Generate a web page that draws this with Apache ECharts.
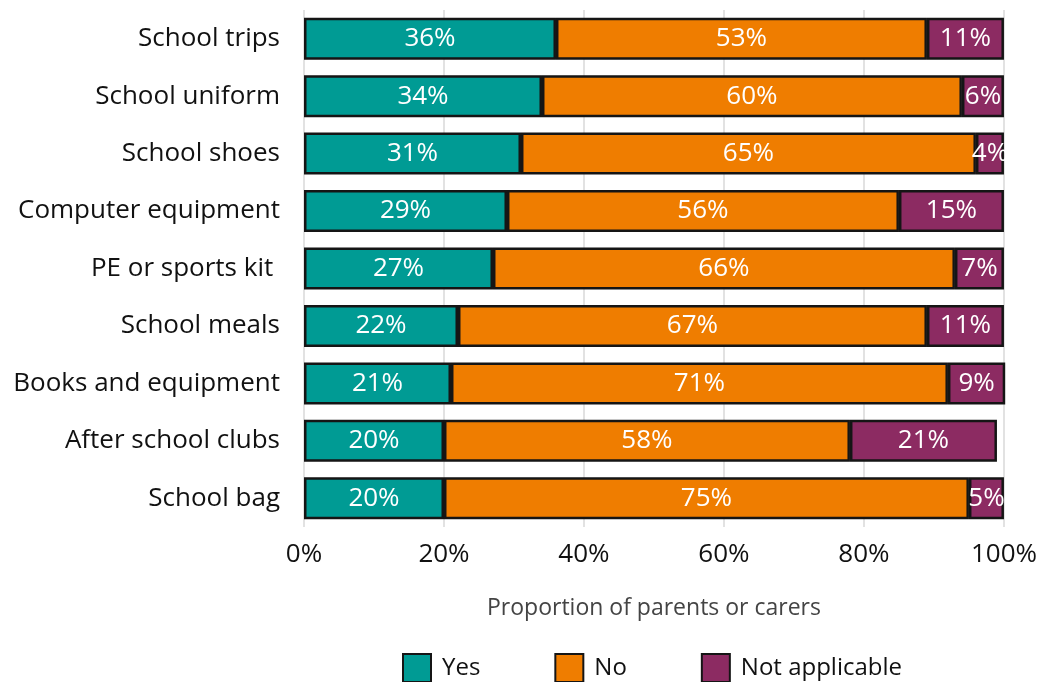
<!DOCTYPE html>
<html>
<head>
<meta charset="utf-8">
<script src="https://cdn.jsdelivr.net/npm/echarts@6/dist/echarts.min.js"></script>
<style>
  html, body { margin: 0; padding: 0; background: #ffffff; }
  #chart { width: 1040px; height: 682px; }
</style>
</head>
<body>
<div id="chart"></div>
<script>
// Items that parents or carers were asked about (top to bottom)
const categories = [
  'School trips', 'School uniform', 'School shoes', 'Computer equipment',
  'PE or sports kit ', 'School meals', 'Books and equipment',
  'After school clubs', 'School bag'
];
// Percentage of respondents per answer
const yesValues = [36, 34, 31, 29, 27, 22, 21, 20, 20];
const noValues = [53, 60, 65, 56, 66, 67, 71, 58, 75];
const naValues = [11, 6, 4, 15, 7, 11, 9, 21, 5];
const xTicks = [0, 20, 40, 60, 80, 100];

const FONT = '"Open Sans", Lato, sans-serif';
const colours = { yes: '#009b94', no: '#ef7d00', na: '#8c2b62' };

function barSeries(name, values, colour) {
  return {
    name: name,
    type: 'bar',
    stack: 'total',
    barWidth: 42,
    data: values,
    itemStyle: { color: colour, borderColor: '#151515', borderWidth: 2.5 },
    label: {
      show: true,
      position: 'inside',
      color: '#ffffff',
      fontFamily: FONT,
      fontSize: 26,
      formatter: p => p.value + '%'
    }
  };
}

const chart = echarts.init(document.getElementById('chart'));
chart.setOption({
  animation: false,
  textStyle: { fontFamily: FONT },
  grid: { left: 304, right: 35, top: 10, bottom: 155, containLabel: false },
  xAxis: {
    type: 'value',
    min: 0,
    max: 100,
    interval: 20,
    name: 'Proportion of parents or carers',
    nameLocation: 'middle',
    nameGap: 70,
    nameTextStyle: { fontFamily: FONT, fontSize: 23, color: '#444' },
    axisLine: { show: false },
    axisTick: { show: false },
    axisLabel: {
      fontFamily: FONT, fontSize: 26, color: '#111', margin: 15,
      formatter: v => xTicks.includes(v) ? v + '%' : ''
    },
    splitLine: { show: true, lineStyle: { color: '#d8d8d8', width: 1.5 } }
  },
  yAxis: {
    type: 'category',
    inverse: true,
    data: categories,
    axisLine: { show: false },
    axisTick: { show: false },
    axisLabel: { fontFamily: FONT, fontSize: 26, color: '#111', margin: 24 }
  },
  legend: {
    top: 653,
    left: 402,
    icon: 'rect',
    itemWidth: 28,
    itemHeight: 28,
    itemGap: 74,
    padding: 0,
    textStyle: { fontFamily: FONT, fontSize: 24, color: '#111', padding: [0, 0, 0, 6] },
    data: ['Yes', 'No', 'Not applicable']
  },
  series: [
    barSeries('Yes', yesValues, colours.yes),
    barSeries('No', noValues, colours.no),
    barSeries('Not applicable', naValues, colours.na)
  ]
});
</script>
</body>
</html>
